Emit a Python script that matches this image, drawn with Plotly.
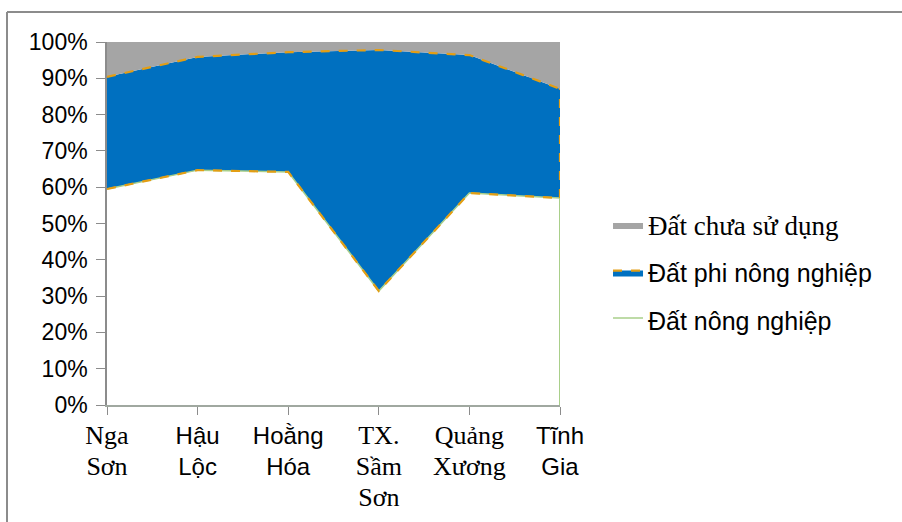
import plotly.graph_objects as go

categories = ["Nga Sơn", "Hậu Lộc", "Hoằng Hóa", "TX. Sầm Sơn", "Quảng Xương", "Tĩnh Gia"]
SERIF = '<span style="font-family:Liberation Serif;font-size:26px">'
tick_labels = [
    SERIF + 'Nga<br>Sơn</span>',
    'Hậu<br>Lộc',
    'Hoằng<br>Hóa',
    SERIF + 'TX.<br>Sầm<br>Sơn</span>',
    SERIF + 'Quảng<br>Xương</span>',
    'Tĩnh<br>Gia',
]
dat_nong_nghiep = [59.5, 64.7, 64.2, 31.4, 58.4, 57.0]
dat_phi_nong_nghiep = [30.9, 31.2, 33.0, 66.4, 38.0, 30.1]
dat_chua_su_dung = [9.6, 4.1, 2.8, 2.2, 3.6, 12.9]

xs = list(range(len(categories)))
ORANGE = "#E39E14"
GREEN = "#A9CF8A"

fig = go.Figure()
fig.add_trace(go.Scatter(
    x=xs, y=dat_nong_nghiep, stackgroup="one", mode="lines",
    name="Đất nông nghiệp", legendgroup="c", legendrank=3,
    line=dict(color=GREEN, width=1.5), fillcolor="white",
))
fig.add_trace(go.Scatter(
    x=xs, y=dat_phi_nong_nghiep, stackgroup="one", mode="lines",
    name="Đất phi nông nghiệp", legendgroup="b", legendrank=2,
    line=dict(color=ORANGE, width=2.2, dash="dash"), fillcolor="#0070C0",
))
fig.add_trace(go.Scatter(
    x=xs, y=dat_chua_su_dung, stackgroup="one", mode="lines",
    name='<span style="font-family:Liberation Serif;font-size:27px">Đất chưa sử dụng</span>',
    legendgroup="a", legendrank=1,
    line=dict(color="#A5A5A5", width=0), fillcolor="#A5A5A5",
))
# outline of the blue area (lower edge and right edge)
fig.add_trace(go.Scatter(
    x=xs, y=dat_nong_nghiep, mode="lines", showlegend=False, hoverinfo="skip",
    line=dict(color=ORANGE, width=2.2, dash="dash"),
))
last = len(xs) - 1
fig.add_trace(go.Scatter(
    x=[xs[last], xs[last]],
    y=[dat_nong_nghiep[last], dat_nong_nghiep[last] + dat_phi_nong_nghiep[last]],
    mode="lines", showlegend=False, hoverinfo="skip",
    line=dict(color=ORANGE, width=2.2, dash="dash"),
))
fig.add_trace(go.Scatter(
    x=[xs[last], xs[last]], y=[0, dat_nong_nghiep[last]],
    mode="lines", showlegend=False, hoverinfo="skip",
    line=dict(color=GREEN, width=2),
))

fig.update_layout(
    width=902, height=522,
    margin=dict(l=107, r=342, t=42, b=117, autoexpand=False),
    paper_bgcolor="white", plot_bgcolor="white",
    font=dict(family="Liberation Sans, Arial", size=21, color="black"),
    showlegend=True,
    legend=dict(
        x=1.106, y=0.364, xanchor="left", yanchor="middle",
        traceorder="grouped", tracegroupgap=12,
        font=dict(size=25), bgcolor="rgba(0,0,0,0)",
        itemwidth=30,
    ),
    shapes=[
        dict(type="line", xref="paper", yref="paper", x0=-100/453, x1=1.8, y0=1 + 30/363, y1=1 + 30/363,
             line=dict(color="#8C8C8C", width=2)),
        dict(type="line", xref="paper", yref="paper", x0=-100/453, x1=-100/453, y0=1 + 30/363, y1=-1,
             line=dict(color="#8C8C8C", width=2)),
    ],
)
fig.update_xaxes(
    range=[0, last], tickmode="array", tickvals=xs, ticktext=tick_labels,
    showgrid=False, showline=True, linecolor="#A0A8A0", linewidth=2,
    ticks="outside", ticklen=8, tickcolor="#8C8C8C", tickangle=0,
    tickfont=dict(size=24), zeroline=False, automargin=False,
)
fig.update_yaxes(
    range=[0, 100], tickmode="array", tickvals=list(range(0, 101, 10)),
    ticktext=[f"{v}%" for v in range(0, 101, 10)],
    showgrid=True, gridcolor="#ABABAB", gridwidth=1.5,
    showline=True, linecolor="#8C8C8C", linewidth=1.5,
    ticks="outside", ticklen=9, tickcolor="#8C8C8C", ticklabelstandoff=4,
    tickfont=dict(size=23), zeroline=False, automargin=False,
)
fig.write_html("out.html")
